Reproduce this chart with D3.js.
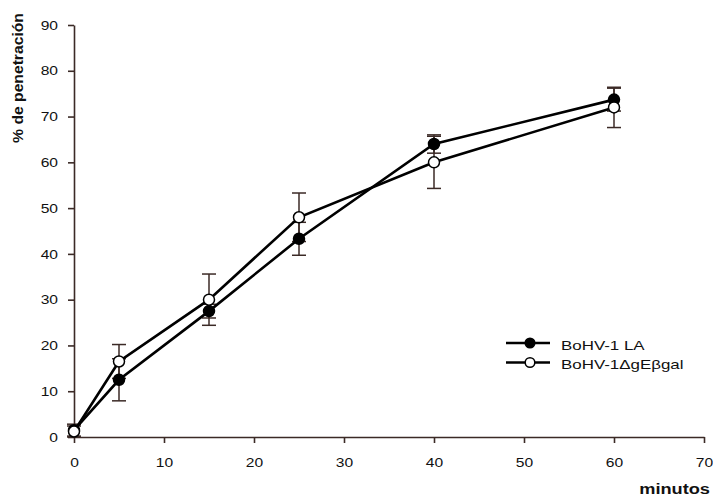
<!DOCTYPE html>
<html>
<head>
<meta charset="utf-8">
<script src="https://cdn.jsdelivr.net/npm/d3@7"></script>
<style>
  body { margin: 0; background: #fff; }
  svg { font-family: 'Liberation Sans', Arial, sans-serif; }
</style>
</head>
<body>
<div class="chart"></div>
<script>
// time points (minutos)
const minutes = [0, 5, 15, 25, 40, 60];
// BoHV-1 LA (filled)
const laValues = [1.5, 12.5, 27.5, 43.3, 64, 73.7];
const laErrors = [1.3, 4.6, 1.5, 3.6, 2, 2.5];
// BoHV-1 ΔgEβgal (open)
const dgeValues = [1.2, 16.5, 30, 48, 60, 72];
const dgeErrors = [1.2, 3.7, 5.6, 5.3, 5.7, 4.4];
const xTicks = [0, 10, 20, 30, 40, 50, 60, 70];
const yTicks = [0, 10, 20, 30, 40, 50, 60, 70, 80, 90];
const seriesNames = ['BoHV-1 LA', 'BoHV-1\u0394gE\u03B2gal'];

const dimensions = {
  width: 713,
  height: 497,
  margin: { top: 25, right: 9, bottom: 60, left: 74 },
};
dimensions.boundedWidth =
  dimensions.width - dimensions.margin.left - dimensions.margin.right;
dimensions.boundedHeight =
  dimensions.height - dimensions.margin.top - dimensions.margin.bottom;

const axisColor = '#3b2a26';

// the original figure's text is stretched sideways
function stretch(sel, k) {
  sel.each(function () {
    const w = this.getComputedTextLength();
    d3.select(this)
      .attr('textLength', w * k)
      .attr('lengthAdjust', 'spacingAndGlyphs');
  });
}

const svg = d3
  .select('.chart')
  .append('svg')
  .attr('width', dimensions.width)
  .attr('height', dimensions.height);

const bounds = svg
  .append('g')
  .attr('transform', `translate(${dimensions.margin.left},${dimensions.margin.top})`);

const xScale = d3.scaleLinear().domain([0, 70]).range([0, dimensions.boundedWidth]);
const yScale = d3.scaleLinear().domain([0, 90]).range([dimensions.boundedHeight, 0]);

// axes
const xAxis = bounds
  .append('g')
  .attr('transform', `translate(0,${dimensions.boundedHeight})`)
  .call(d3.axisBottom(xScale).tickValues(xTicks).tickSize(6).tickSizeOuter(0).tickPadding(15));
const yAxis = bounds
  .append('g')
  .call(d3.axisLeft(yScale).tickValues(yTicks).tickSize(6).tickSizeOuter(0).tickPadding(10));

[xAxis, yAxis].forEach((ax) => {
  ax.select('.domain').attr('stroke', axisColor).attr('stroke-width', 1.6);
  ax.selectAll('.tick line').attr('stroke', axisColor).attr('stroke-width', 1.6);
  ax.selectAll('.tick text')
    .attr('fill', '#111')
    .style('font-size', '13px')
    .call(stretch, 1.2);
});

// axis titles
svg
  .append('text')
  .attr('x', 710)
  .attr('y', 494)
  .attr('text-anchor', 'end')
  .attr('fill', '#111')
  .style('font-size', '14px')
  .style('font-weight', 'bold')
  .text('minutos')
  .call(stretch, 1.3);

svg
  .append('text')
  .attr('transform', 'translate(23,78) rotate(-90)')
  .attr('text-anchor', 'middle')
  .attr('fill', '#111')
  .style('font-size', '14px')
  .style('font-weight', 'bold')
  .text('% de penetración')
  .call(stretch, 1.12);

const series = [
  { name: seriesNames[0], values: laValues, errors: laErrors, fill: '#000' },
  { name: seriesNames[1], values: dgeValues, errors: dgeErrors, fill: '#fff' },
];

const lineGenerator = d3
  .line()
  .x((d) => xScale(d.x))
  .y((d) => yScale(d.y));

// error bars
series.forEach((s) => {
  const pts = minutes.map((m, i) => ({ x: m, y: s.values[i], e: s.errors[i] }));
  const eb = bounds.append('g').attr('stroke', axisColor).attr('stroke-width', 1.5);
  pts.forEach((p) => {
    const cx = xScale(p.x);
    eb.append('line')
      .attr('x1', cx).attr('x2', cx)
      .attr('y1', yScale(p.y - p.e)).attr('y2', yScale(p.y + p.e));
    [p.y - p.e, p.y + p.e].forEach((v) => {
      eb.append('line')
        .attr('x1', cx - 7).attr('x2', cx + 7)
        .attr('y1', yScale(v)).attr('y2', yScale(v));
    });
  });
});

// lines and markers
series.forEach((s) => {
  const pts = minutes.map((m, i) => ({ x: m, y: s.values[i] }));
  bounds
    .append('path')
    .attr('d', lineGenerator(pts))
    .attr('fill', 'none')
    .attr('stroke', '#000')
    .attr('stroke-width', 2.6);
});
series.forEach((s) => {
  const pts = minutes.map((m, i) => ({ x: m, y: s.values[i] }));
  bounds
    .selectAll(null)
    .data(pts)
    .join('circle')
    .attr('cx', (d) => xScale(d.x))
    .attr('cy', (d) => yScale(d.y))
    .attr('r', 5.5)
    .attr('fill', s.fill)
    .attr('stroke', '#000')
    .attr('stroke-width', 1.5);
});

// legend
const legend = svg.append('g').attr('transform', 'translate(506,343)');
series.forEach((s, i) => {
  const row = legend.append('g').attr('transform', `translate(0,${i * 19.5})`);
  row.append('line')
    .attr('x1', 0).attr('x2', 44)
    .attr('stroke', '#000').attr('stroke-width', 2.5);
  row.append('circle')
    .attr('cx', 24).attr('r', 4.8)
    .attr('fill', s.fill).attr('stroke', '#000').attr('stroke-width', 1.5);
  row.append('text')
    .attr('x', 55).attr('y', 2).attr('dy', '0.35em')
    .style('font-size', '13px')
    .attr('fill', '#111')
    .text(s.name)
    .call(stretch, 1.3);
});
</script>
</body>
</html>
